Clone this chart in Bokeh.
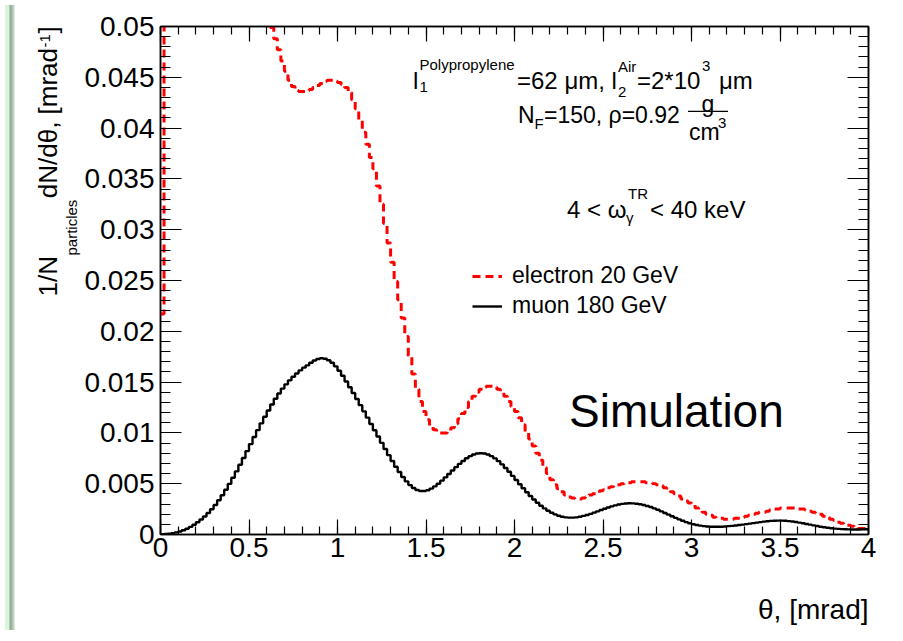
import numpy as np
from bokeh.plotting import figure
from bokeh.models import (Range1d, FixedTicker, LinearAxis, Label, Legend, LegendItem,
                          CustomJSTickFormatter, Div, Title)
from bokeh.layouts import row
from bokeh.embed import file_html
from bokeh.resources import INLINE

# ---------------- data ----------------
bin_width = 0.02  # mrad, 200 bins over 0..4 mrad

muon_180GeV = [
    0.00002, 0.00005, 0.00009, 0.00014, 0.00021, 0.00030, 0.00042, 0.00057, 0.00075, 0.00096,
    0.00120, 0.00147, 0.00177, 0.00211, 0.00249, 0.00291, 0.00337, 0.00387, 0.00441, 0.00498,
    0.00558, 0.00621, 0.00686, 0.00753, 0.00821, 0.00890, 0.00959, 0.01027, 0.01094, 0.01159,
    0.01221, 0.01280, 0.01336, 0.01388, 0.01436, 0.01478, 0.01517, 0.01552, 0.01585, 0.01615,
    0.01642, 0.01665, 0.01690, 0.01712, 0.01728, 0.01735, 0.01730, 0.01715, 0.01690, 0.01655,
    0.01612, 0.01562, 0.01506, 0.01450, 0.01392, 0.01333, 0.01273, 0.01212, 0.01150, 0.01088,
    0.01026, 0.00964, 0.00902, 0.00841, 0.00781, 0.00723, 0.00667, 0.00615, 0.00566, 0.00523,
    0.00486, 0.00458, 0.00438, 0.00428, 0.00428, 0.00436, 0.00452, 0.00474, 0.00500, 0.00530,
    0.00562, 0.00596, 0.00630, 0.00663, 0.00695, 0.00724, 0.00750, 0.00771, 0.00787, 0.00797,
    0.00800, 0.00797, 0.00787, 0.00771, 0.00749, 0.00722, 0.00690, 0.00655, 0.00617, 0.00577,
    0.00536, 0.00495, 0.00455, 0.00416, 0.00379, 0.00344, 0.00312, 0.00283, 0.00257, 0.00234,
    0.00214, 0.00198, 0.00185, 0.00175, 0.00169, 0.00166, 0.00166, 0.00169, 0.00175, 0.00183,
    0.00192, 0.00203, 0.00215, 0.00228, 0.00241, 0.00254, 0.00266, 0.00277, 0.00287, 0.00295,
    0.00301, 0.00305, 0.00307, 0.00306, 0.00303, 0.00298, 0.00290, 0.00281, 0.00270, 0.00257,
    0.00243, 0.00228, 0.00212, 0.00196, 0.00180, 0.00164, 0.00149, 0.00135, 0.00122, 0.00111,
    0.00101, 0.00093, 0.00087, 0.00082, 0.00079, 0.00077, 0.00076, 0.00076, 0.00077, 0.00079,
    0.00082, 0.00085, 0.00089, 0.00093, 0.00097, 0.00102, 0.00107, 0.00112, 0.00117, 0.00122,
    0.00127, 0.00131, 0.00134, 0.00136, 0.00137, 0.00137, 0.00135, 0.00132, 0.00128, 0.00123,
    0.00117, 0.00111, 0.00104, 0.00097, 0.00090, 0.00083, 0.00077, 0.00071, 0.00066, 0.00062,
    0.00058, 0.00055, 0.00053, 0.00051, 0.00050, 0.00049, 0.00049, 0.00049, 0.00050, 0.00051,
]

electron_20GeV = [
    0.0217, 0.175, 0.163, 0.152, 0.142, 0.133, 0.125, 0.117, 0.110, 0.104,
    0.098, 0.093, 0.088, 0.084, 0.080, 0.077, 0.074, 0.071, 0.068, 0.066,
    0.0640, 0.0620, 0.0600, 0.0582, 0.0565, 0.0550, 0.0537, 0.0527, 0.0519, 0.0512,
    0.0506, 0.0499, 0.0488, 0.0477, 0.0466, 0.0456, 0.0447, 0.0441, 0.0437, 0.0436,
    0.0436, 0.0437, 0.0438, 0.0440, 0.0442, 0.0444, 0.0446, 0.0447, 0.0447, 0.0446,
    0.0445, 0.0443, 0.0440, 0.0435, 0.0428, 0.0419, 0.0408, 0.0396, 0.0384, 0.0371,
    0.0360, 0.0343, 0.0325, 0.0306, 0.0287, 0.0268, 0.0249, 0.0231, 0.0213, 0.0195,
    0.0176, 0.0158, 0.0143, 0.0131, 0.0121, 0.0113, 0.0107, 0.0103, 0.0101, 0.0100,
    0.0100, 0.0102, 0.0105, 0.0109, 0.0114, 0.0119, 0.0125, 0.0131, 0.0136, 0.0140,
    0.0143, 0.0145, 0.0146, 0.0146, 0.0145, 0.0143, 0.0140, 0.0136, 0.0131, 0.0126,
    0.0121, 0.0115, 0.0108, 0.0101, 0.0094, 0.0087, 0.0080, 0.0073, 0.0066, 0.0060,
    0.0054, 0.0049, 0.0045, 0.0042, 0.0039, 0.0037, 0.0036, 0.0035, 0.0035, 0.0036,
    0.0037, 0.0039, 0.0040, 0.0041, 0.0043, 0.0044, 0.0046, 0.0047, 0.0048, 0.0049,
    0.0050, 0.0051, 0.0051, 0.0052, 0.0052, 0.0052, 0.0052, 0.0051, 0.0051, 0.0050,
    0.0049, 0.0048, 0.0046, 0.0044, 0.0042, 0.0040, 0.0038, 0.0035, 0.0033, 0.0031,
    0.0029, 0.0026, 0.0024, 0.0022, 0.0020, 0.0019, 0.0017, 0.0016, 0.0016, 0.0015,
    0.0015, 0.0015, 0.0016, 0.0016, 0.0017, 0.0018, 0.0019, 0.0020, 0.0021, 0.0022,
    0.0022, 0.0023, 0.0024, 0.0025, 0.0025, 0.0026, 0.0026, 0.0026, 0.0026, 0.0026,
    0.0025, 0.0025, 0.0024, 0.0023, 0.0022, 0.0021, 0.0020, 0.0018, 0.0017, 0.0015,
    0.0014, 0.0012, 0.0011, 0.0010, 0.0009, 0.0008, 0.0007, 0.0006, 0.0006, 0.0005,
]

x_ticks = [0, 0.5, 1, 1.5, 2, 2.5, 3, 3.5, 4]
x_tick_labels = ["0", "0.5", "1", "1.5", "2", "2.5", "3", "3.5", "4"]
y_ticks = [0, 0.005, 0.01, 0.015, 0.02, 0.025, 0.03, 0.035, 0.04, 0.045, 0.05]
y_tick_labels = ["0", "0.005", "0.01", "0.015", "0.02", "0.025", "0.03", "0.035",
                 "0.04", "0.045", "0.05"]
series_labels = ["electron 20 GeV", "muon 180 GeV"]
x_title = "\u03b8, [mrad]"

# ---------------- layout constants ----------------
FONT = "Liberation Sans"
NB = "\u00a0"  # non-collapsing space for SVG text
FRAME_L, FRAME_R, FRAME_T, FRAME_B = 157.5, 865.5, 34.0, 543.0  # reference pixel frame
XMIN, XMAX, YMIN, YMAX = 0.0, 4.0, 0.0, 0.05


def X(px):
    return XMIN + (px - FRAME_L) * (XMAX - XMIN) / (FRAME_R - FRAME_L)


def Y(py):
    return YMIN + (FRAME_B - py) * (YMAX - YMIN) / (FRAME_B - FRAME_T)


p = figure(width=877, height=625, output_backend="svg", toolbar_location=None,
           x_range=Range1d(XMIN, XMAX), y_range=Range1d(YMIN, YMAX),
           min_border_left=140, min_border_right=29, min_border_top=26, min_border_bottom=90,
           background_fill_color="white", border_fill_color="white")
p.xgrid.visible = False
p.ygrid.visible = False
p.outline_line_color = "black"
p.outline_line_width = 1.5

# histograms (step lines)
edges = np.arange(len(muon_180GeV) + 1) * bin_width
r_el = p.step(x=edges, y=electron_20GeV + [electron_20GeV[-1]], mode="after",
              line_color="#ff0000", line_width=3, line_dash="8 5")
r_mu = p.step(x=edges, y=muon_180GeV + [muon_180GeV[-1]], mode="after",
              line_color="black", line_width=2.4)

# ---------------- axes ----------------
x_minor = list(np.round(np.arange(0, 4.0001, 0.1), 6))
y_minor = list(np.round(np.arange(0, 0.05001, 0.001), 6))


def fmt(vals, labs):
    return CustomJSTickFormatter(args=dict(vals=vals, labs=labs), code="""
        for (let i = 0; i < vals.length; i++) {
            if (Math.abs(vals[i] - tick) < 1e-9) return labs[i];
        }
        return '';
    """)


def style(ax, major, minor):
    ax.major_tick_in = major
    ax.major_tick_out = 0
    ax.minor_tick_in = minor
    ax.minor_tick_out = 0
    ax.axis_line_color = "black"
    ax.axis_line_width = 1.5
    ax.major_tick_line_color = "black"
    ax.minor_tick_line_color = "black"
    ax.major_tick_line_width = 1.2
    ax.minor_tick_line_width = 1.2
    ax.major_label_text_font = FONT
    ax.major_label_text_font_size = "28px"
    ax.major_label_text_color = "black"


xax = p.xaxis[0]
xax.ticker = FixedTicker(ticks=x_ticks, minor_ticks=x_minor)
xax.formatter = fmt(x_ticks, x_tick_labels)
style(xax, 15, 8)
xax.major_label_standoff = 3

yax = p.yaxis[0]
yax.ticker = FixedTicker(ticks=y_ticks, minor_ticks=y_minor)
yax.formatter = fmt(y_ticks, y_tick_labels)
style(yax, 21, 10)
yax.major_label_standoff = 6

blank = CustomJSTickFormatter(code="return '';")
top = LinearAxis(ticker=FixedTicker(ticks=x_ticks, minor_ticks=x_minor), formatter=blank)
style(top, 15, 8)
top.major_label_text_font_size = "1px"
top.major_label_standoff = 0
p.add_layout(top, "above")
right = LinearAxis(ticker=FixedTicker(ticks=y_ticks, minor_ticks=y_minor), formatter=blank)
style(right, 21, 10)
right.major_label_text_font_size = "1px"
right.major_label_standoff = 0
p.add_layout(right, "right")

# x axis title, right aligned under the frame (a leading empty line lowers it)
p.add_layout(Title(text="\n" + x_title, align="right", vertical_align="bottom", standoff=2,
                   offset=0, text_font=FONT, text_font_size="28px",
                   text_font_style="normal", text_color="black"), "below")

# y axis title built from pieces (main text, subscript, superscript) in side panels
y_main = "1/N" + NB * 8 + "dN/d\u03b8, [mrad" + NB * 2 + "]"
p.add_layout(Title(text="particles", align="left", vertical_align="bottom", offset=279,
                   standoff=3, text_font=FONT, text_font_size="15px",
                   text_font_style="normal", text_color="black"), "left")
p.add_layout(Title(text="-1", align="left", vertical_align="bottom", offset=487,
                   standoff=20, text_font=FONT, text_font_size="15px",
                   text_font_style="normal", text_color="black"), "left")
p.add_layout(Title(text=y_main, align="left", vertical_align="bottom", offset=238,
                   standoff=-70, text_font=FONT, text_font_size="26px",
                   text_font_style="normal", text_color="black"), "left")

# ---------------- legend ----------------
legend = Legend(items=[LegendItem(label=series_labels[0], renderers=[r_el]),
                       LegendItem(label=series_labels[1], renderers=[r_mu])],
                location=(312, 215), orientation="vertical",
                glyph_width=30, glyph_height=20, label_height=20, spacing=3,
                label_standoff=10, padding=0, margin=0,
                border_line_alpha=0, background_fill_alpha=0,
                label_text_font=FONT, label_text_font_size="23px", label_text_color="black")
p.add_layout(legend)


# ---------------- text inside the frame ----------------
def txt(x, y, s, size, align="left"):
    p.add_layout(Label(x=X(x), y=Y(y), text=s, text_font=FONT, text_font_size=f"{size}px",
                       text_color="black", text_align=align, text_baseline="alphabetic"))


# line 1
txt(410, 88, "l", 24)
txt(416.5, 95, "1", 15)
txt(416.5, 72, "Polypropylene", 15)
txt(514, 88, "=62 \u03bcm, l", 24)
txt(615, 100, "2", 15)
txt(615, 74, "Air", 15)
txt(634, 88, "=2*10", 24)
txt(699, 74, "3", 15)
txt(716, 88, "\u03bcm", 24)
# line 2
txt(515, 123, "N", 23)
txt(531.5, 131, "F", 15)
txt(541, 123, "=150, \u03c1=0.92", 23)
txt(705, 112, "g", 23, align="center")
txt(686, 140, "cm", 23)
txt(715, 131, "3", 15)
# line 3
txt(564, 217, "4 < \u03c9", 24)
txt(623, 225, "\u03b3", 15)
txt(625, 201, "TR", 15)
txt(647, 217, "< 40 keV", 24)

# "Simulation"
txt(566, 419, "Simulation", 46)

# fraction bar of g/cm^3
p.line(x=[X(685), X(725)], y=[Y(119), Y(119)], line_color="black", line_width=1.3)

strip = Div(width=10, height=625, styles={
    "background": "linear-gradient(to right, #d8f4dc 0px, #d8f4dc 4px, #8ea590 5px, #b4c8b5 8px, #eef4ee 10px)"})

layout = row(strip, p)
open("out.html", "w").write(file_html(layout, INLINE))
